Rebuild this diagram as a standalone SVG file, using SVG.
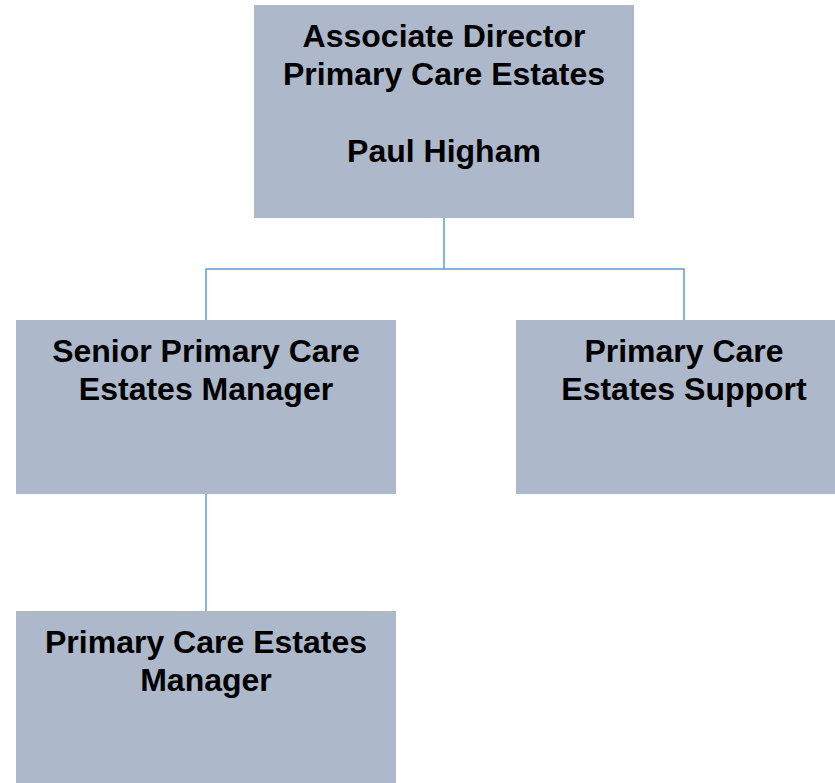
<svg xmlns="http://www.w3.org/2000/svg" width="835" height="783" viewBox="0 0 835 783">
<style>
.box{fill:#adb9ca;}
.t{font-family:"Liberation Sans",Arial,sans-serif;font-weight:bold;font-size:32px;fill:#000;text-anchor:middle;}
.c{fill:none;stroke:#5b9bd5;stroke-width:1.5;}
</style>
<rect width="835" height="783" fill="#fff"/>
<g id="connectors">
<path class="c" d="M444 218 V269 M206 320 V269 H684 V320"/>
<path class="c" d="M206 494 V611"/>
</g>
<g id="director">
<rect class="box" x="254" y="5" width="380" height="213"/>
<text class="t" x="444" y="47">Associate Director</text>
<text class="t" x="444" y="85">Primary Care Estates</text>
<text class="t" x="444" y="162">Paul Higham</text>
</g>
<g id="senior-manager">
<rect class="box" x="16" y="320" width="380" height="174"/>
<text class="t" x="206" y="362">Senior Primary Care</text>
<text class="t" x="206" y="400">Estates Manager</text>
</g>
<g id="support">
<rect class="box" x="516" y="320" width="336" height="174"/>
<text class="t" x="684" y="362">Primary Care</text>
<text class="t" x="684" y="400">Estates Support</text>
</g>
<g id="manager">
<rect class="box" x="16" y="611" width="380" height="180"/>
<text class="t" x="206" y="653">Primary Care Estates</text>
<text class="t" x="206" y="691">Manager</text>
</g>
</svg>
